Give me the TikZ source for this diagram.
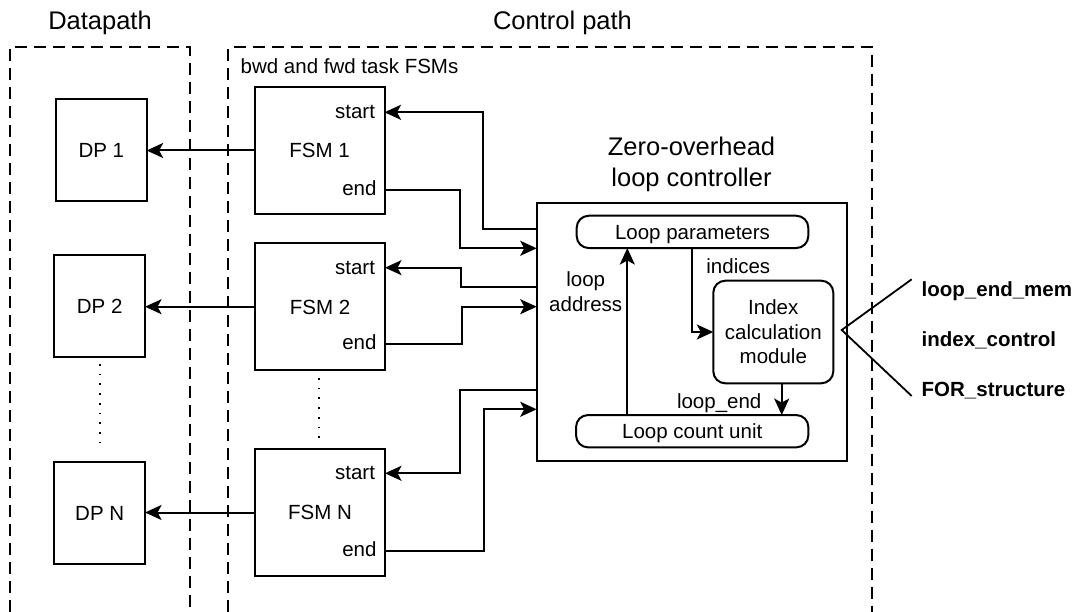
\documentclass[tikz,border=0pt]{standalone}
\usepackage{fontspec}
\setmainfont{Liberation Sans}
\usetikzlibrary{arrows.meta}

\begin{document}
\begin{tikzpicture}[x=1pt,y=-1pt,
  every node/.style={inner sep=0pt, outer sep=0pt},
  lbl/.style={font=\fontsize{20.5}{24.5}\selectfont},
  biglbl/.style={font=\fontsize{25.5}{31}\selectfont},
  sig/.style={font=\fontsize{20.5}{24.5}\selectfont\bfseries, anchor=base west},
  blk/.style={draw, line width=2pt, lbl, text height=14.7pt, text depth=0pt},
  rblk/.style={blk, rounded corners=12pt},
  region/.style={line width=2pt, dash pattern=on 12pt off 7pt},
  dotline/.style={line width=1.7pt, dash pattern=on 1.7pt off 8pt},
  arr/.style={line width=2pt, -{Stealth[length=16.5pt,width=15pt,inset=4pt]}},
  wire/.style={line width=1.8pt}
]
\useasboundingbox (0,0) rectangle (1086,612);

% group headings
\node[biglbl, anchor=base] (dpath) at (100,30) {Datapath};
\node[biglbl, anchor=base] (cpath) at (562.5,30) {Control path};

% open-bottom dashed regions
\draw[region] (10,612) |- (190,47.3) -- (190,612);
\draw[region] (228.3,612) |- (872.3,47.3) -- (872.3,612);
\node[lbl, anchor=base west] (fsmgrp) at (240.7,73.3) {bwd and fwd task FSMs};

% datapath blocks
\node[blk, minimum width=90.7pt, minimum height=102pt] (dp1) at (101.3,150.5) {DP 1};
\node[blk, minimum width=90.7pt, minimum height=102pt] (dp2) at (99.7,306.2) {DP 2};
\node[blk, minimum width=90.7pt, minimum height=102pt] (dpN) at (99.7,513.3) {DP N};
\draw[dotline] (100,364) -- (100,449);

% task FSMs
\node[blk, minimum width=130pt, minimum height=127.5pt] (fsm1) at (319.5,150.5) {FSM 1\hspace{9pt}};
\node[blk, minimum width=130pt, minimum height=127pt] (fsm2) at (320,306.7) {FSM 2\hspace{9pt}};
\node[blk, minimum width=130pt, minimum height=127pt] (fsmN) at (320,512.5) {FSM N\hspace{9pt}};
\draw[dotline] (319,378) -- (319,441);

% FSM port labels
\node[lbl, anchor=base east] (f1st) at (375,118.8) {start};
\node[lbl, anchor=base east] (f1en) at (376.5,195.5) {end};
\node[lbl, anchor=base east] (f2st) at (375,274.2) {start};
\node[lbl, anchor=base east] (f2en) at (376.5,349.8) {end};
\node[lbl, anchor=base east] (fNst) at (375,479.8) {start};
\node[lbl, anchor=base east] (fNen) at (376.5,556.2) {end};

% FSM port points
\coordinate (f1s) at (384.5,112.3);
\coordinate (f1e) at (384.5,190);
\coordinate (f2s) at (385,267.7);
\coordinate (f2e) at (385,344.3);
\coordinate (fNs) at (385,473.3);
\coordinate (fNe) at (385,550.7);

% loop controller
\node[biglbl, align=center] (zolc) at (691.5,164.8) {Zero-overhead\\loop controller};
\node[draw, line width=2pt, minimum width=309.8pt, minimum height=258pt] (ctrl) at (691.6,331.7) {};
\node[rblk, minimum width=231.6pt, minimum height=32.3pt] (lp) at (692.5,231.9) {Loop parameters};
\node[rblk, minimum width=232.3pt, minimum height=32.3pt] (lcu) at (692.2,431.2) {Loop count unit};
\node[draw, line width=2pt, rounded corners=12pt, minimum width=120pt, minimum height=102.6pt,
      lbl, align=center] (icm) at (773.3,332) {Index\\calculation\\module};

% controller side connection points
\coordinate (c1s) at (536.7,229);
\coordinate (c1e) at (536.7,248.3);
\coordinate (c2s) at (536.7,286.7);
\coordinate (c2e) at (536.7,306.7);
\coordinate (cNs) at (536.7,390);
\coordinate (cNe) at (536.7,409.3);

% FSM -> datapath
\draw[arr] (fsm1.west) -- (dp1.east |- fsm1.west);
\draw[arr] (fsm2.west) -- (dp2.east |- fsm2.west);
\draw[arr] (fsmN.west) -- (dpN.east |- fsmN.west);

% start / end handshakes
\draw[arr] (c1s) -- ++(-53.4,0) |- (f1s);
\draw[arr] (f1e) -- ++(75.5,0) |- (c1e);
\draw[arr] (c2s) -- ++(-76,0) |- (f2s);
\draw[arr] (f2e) -- ++(76.7,0) |- (c2e);
\draw[arr] (cNs) -- ++(-76.7,0) |- (fNs);
\draw[arr] (fNe) -- ++(99,0) |- (cNe);

% internal controller signals
\coordinate (xa) at (627.3,0);
\coordinate (xi) at (691.7,0);
\coordinate (xe) at (781.7,0);
\draw[arr] (lcu.north -| xa) -- (lp.south -| xa);
\draw[arr] (lp.south -| xi) |- (icm.west);
\draw[arr] (icm.south -| xe) -- (lcu.north -| xe);
\node[lbl, align=center] (laddr) at (585.7,291.7) {loop\\address};
\node[lbl, anchor=base] (idx) at (738.3,273.3) {indices};
\node[lbl, anchor=base] (lend) at (719.2,408) {loop\_end};

% external control inputs
\coordinate (fan) at (841.7,330);
\coordinate (fanA) at (911.7,279.3);
\coordinate (fanB) at (911.7,396);
\draw[wire] (fanA) -- (fan) -- (fanB);
\node[sig] (sig1) at (921.7,296.7) {loop\_end\_mem};
\node[sig] (sig2) at (921.7,346) {index\_control};
\node[sig] (sig3) at (921.7,396.7) {FOR\_structure};
\end{tikzpicture}
\end{document}
